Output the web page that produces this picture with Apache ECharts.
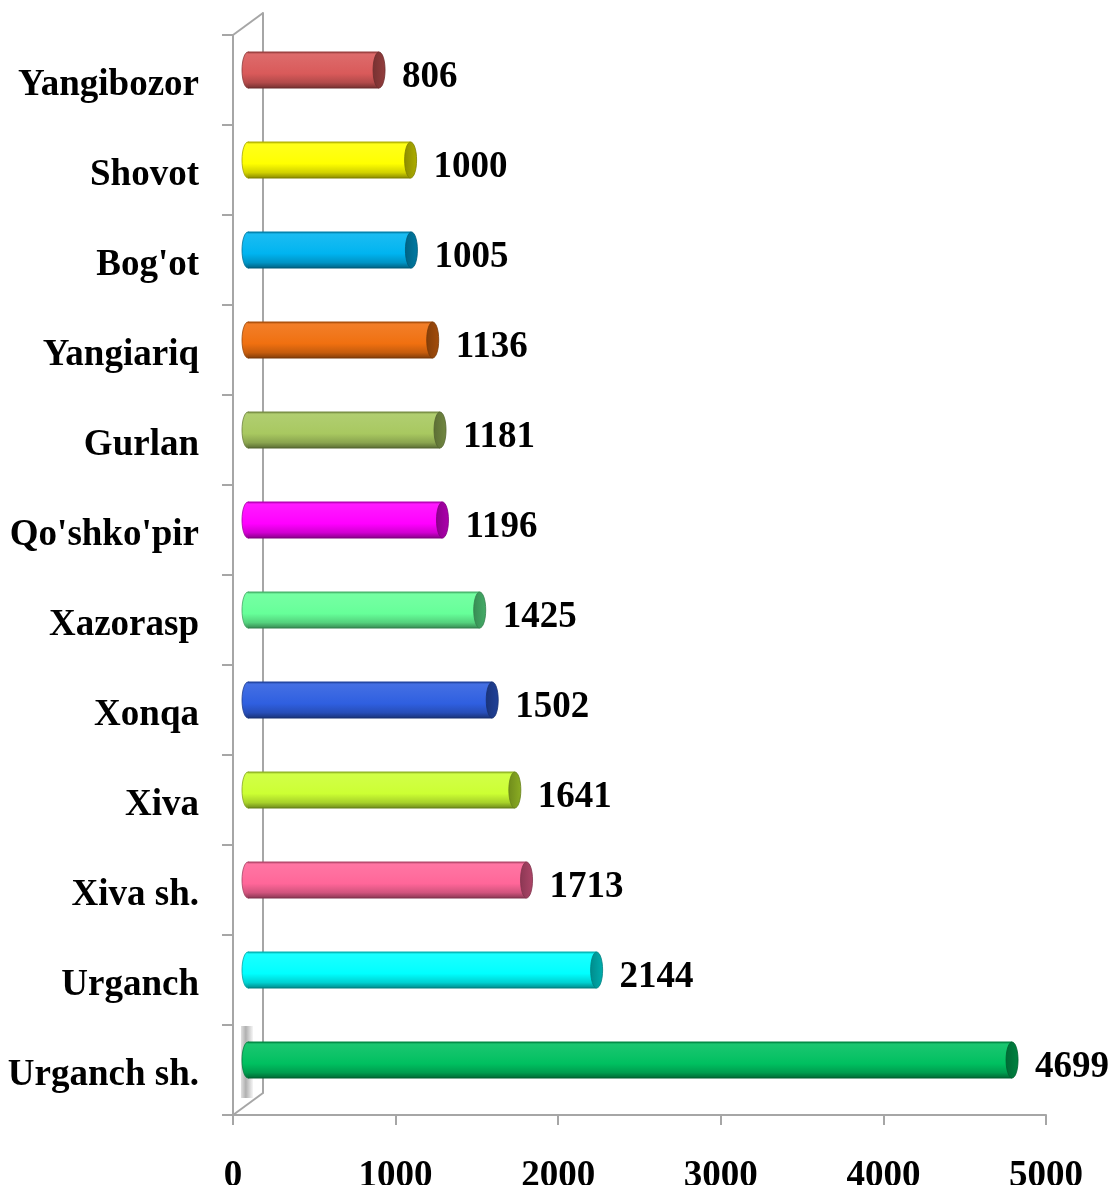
<!DOCTYPE html>
<html><head><meta charset="utf-8">
<script src="https://cdn.jsdelivr.net/npm/echarts@6/dist/echarts.min.js"></script>
<style>html,body{margin:0;padding:0;background:#fff}#c{width:1115px;height:1185px}</style>
</head><body><div id="c"></div>
<script>
const categories = ["Yangibozor","Shovot","Bog'ot","Yangiariq","Gurlan","Qo'shko'pir","Xazorasp","Xonqa","Xiva","Xiva sh.","Urganch","Urganch sh."];
const values = [806,1000,1005,1136,1181,1196,1425,1502,1641,1713,2144,4699];
const colors = ["#d95a5a","#ffff00","#00b4f0","#f07010","#a8c860","#ff00ff","#66ff99","#2f5fe0","#ccff33","#ff6699","#00ffff","#00c060"];
const xTicks = [0,1000,2000,3000,4000,5000];

const FONT = "'Liberation Serif','Times New Roman',serif";
function shade(hex, k){ // k<0 darken, k>0 lighten
  const c = echarts.color.parse(hex);
  const r = [0,1,2].map(i => Math.round(k<0 ? c[i]*(1+k) : c[i]+(255-c[i])*k));
  return 'rgb('+r.join(',')+')';
}
const chart = echarts.init(document.getElementById('c'), null, {renderer:'canvas'});

const F = {left:233, top:35, right:1046, bottom:1115, dx:30, dy:22};

function renderItem(params, api){
  const idx = api.value(0), v = api.value(1);
  const p0 = api.coord([0, idx]);
  const p1 = api.coord([v, idx]);
  const h = 36, rx = 6;
  const cy = p0[1];
  const base = colors[idx];
  const grad = new echarts.graphic.LinearGradient(0,0,0,1,[
    {offset:0, color: shade(base,-0.3)},
    {offset:0.06, color: shade(base,0.1)},
    {offset:0.35, color: shade(base,0.05)},
    {offset:0.6, color: base},
    {offset:0.85, color: shade(base,-0.18)},
    {offset:1, color: shade(base,-0.45)}
  ]);
  const capGrad = new echarts.graphic.LinearGradient(0,0,1,0,[
    {offset:0, color: shade(base,-0.45)},
    {offset:1, color: shade(base,-0.32)}
  ]);
  return {type:'group', children:[
    {type:'ellipse', shape:{cx:p0[0], cy:cy, rx:rx, ry:h/2}, style:{fill:grad, stroke:shade(base,-0.35), lineWidth:0.8}},
    {type:'rect', shape:{x:p0[0], y:cy-h/2, width:p1[0]-p0[0], height:h}, style:{fill:grad}},
    {type:'line', shape:{x1:p0[0], y1:cy-h/2, x2:p1[0], y2:cy-h/2}, style:{stroke:shade(base,-0.3), lineWidth:1}},
    {type:'line', shape:{x1:p0[0], y1:cy+h/2, x2:p1[0], y2:cy+h/2}, style:{stroke:shade(base,-0.5), lineWidth:1}},
    {type:'ellipse', shape:{cx:p1[0], cy:cy, rx:rx, ry:h/2}, style:{fill:capGrad, stroke:shade(base,-0.5), lineWidth:0.8}},
    {type:'text', x:p1[0]+rx+17, y:cy+7, style:{text:String(v), font:"bold 37px "+FONT, fill:'#000', verticalAlign:'middle', align:'left'}}
  ]};
}

const axisGray = '#a6a6a6';
const NB = 'none';
const option = {
  animation:false,
  backgroundColor:'#fff',
  grid:[
    {left:F.left, top:F.top, right:1115-F.right, bottom:1185-F.bottom, outerBoundsMode:NB},
    {left:248, top:25, right:1115-248-813, bottom:80, outerBoundsMode:NB},
    {left:F.left+F.dx, top:F.top-F.dy, right:1115-F.right, bottom:1185-F.bottom+F.dy, outerBoundsMode:NB},
    {left:F.left, top:F.top+5, right:1115-F.right, bottom:1185-F.bottom-5, outerBoundsMode:NB}
  ],
  xAxis:[
    {gridIndex:0, type:'value', min:xTicks[0], max:xTicks[xTicks.length-1], interval:1000,
     splitLine:{show:false},
     axisLine:{show:true, lineStyle:{color:axisGray, width:2}},
     axisTick:{show:true, length:10, lineStyle:{color:axisGray, width:2}},
     axisLabel:{margin:43, formatter:v=>String(v), fontFamily:FONT, fontWeight:'bold', fontSize:37, color:'#000'}},
    {gridIndex:1, type:'value', min:0, max:5000, show:false},
    {gridIndex:2, type:'value', min:0, max:5000, show:false},
    {gridIndex:3, type:'value', min:0, max:5000, show:false}
  ],
  yAxis:[
    {gridIndex:0, type:'category', data:categories, inverse:true,
     axisLine:{show:true, lineStyle:{color:axisGray, width:2}},
     axisTick:{show:true, length:11, inside:false, lineStyle:{color:axisGray, width:2}},
     axisLabel:{show:false}},
    {gridIndex:1, type:'category', data:categories, inverse:true, show:false},
    {gridIndex:2, type:'category', data:categories, inverse:true, show:true,
     axisLine:{show:true, lineStyle:{color:axisGray, width:2}}, axisTick:{show:false}, axisLabel:{show:false}},
    {gridIndex:3, type:'category', data:categories, inverse:true,
     axisLine:{show:false}, axisTick:{show:false},
     axisLabel:{margin:34, fontFamily:FONT, fontWeight:'bold', fontSize:37, color:'#000'}}
  ],
  graphic:[
    {type:'line', shape:{x1:F.left, y1:F.top, x2:F.left+F.dx, y2:F.top-F.dy}, style:{stroke:axisGray, lineWidth:2}},
    {type:'line', shape:{x1:F.left, y1:F.bottom, x2:F.left+F.dx, y2:F.bottom-F.dy}, style:{stroke:axisGray, lineWidth:2}},
    {type:'rect', z:-1, shape:{x:241, y:1026, width:12, height:72},
     style:{fill:new echarts.graphic.LinearGradient(0,0,1,0,[{offset:0,color:'#e0e0e0'},{offset:0.4,color:'#b0b0b0'},{offset:1,color:'#f6f6f6'}])}}
  ],
  series:[{
    type:'custom', xAxisIndex:1, yAxisIndex:1,
    renderItem: renderItem,
    encode:{x:1, y:0},
    data: values.map((v,i)=>[i,v])
  }]
};
chart.setOption(option);
</script></body></html>
